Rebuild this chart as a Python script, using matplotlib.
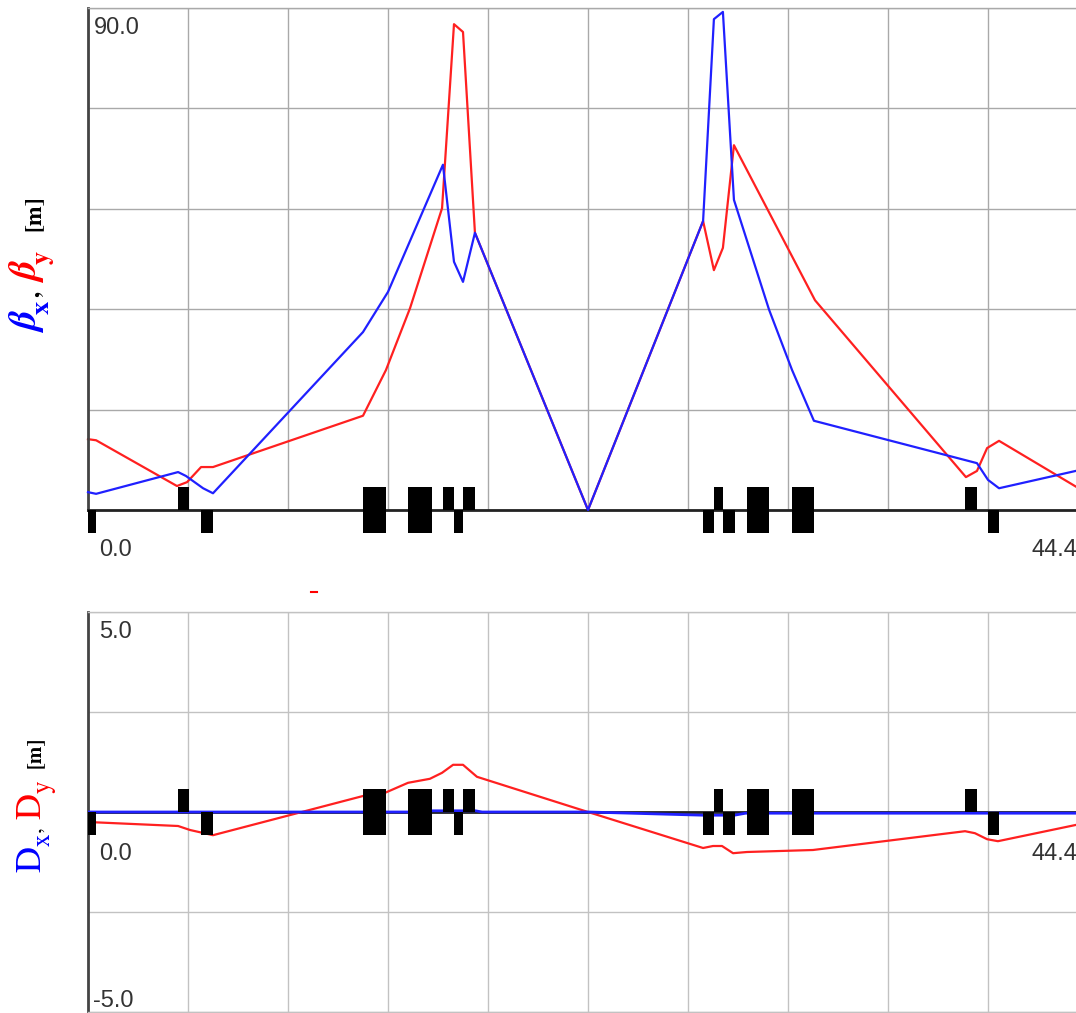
import numpy as np
import matplotlib.pyplot as plt
from matplotlib.lines import Line2D

# =========================
# DATA (s in metres)
# =========================
L = 44.4

s_bx = [0.0, 0.36, 4.00, 4.35, 5.11, 5.55, 12.21, 13.32, 15.76, 16.25, 16.65, 17.18,
        22.2, 27.31, 27.79, 28.19, 28.68, 30.24, 31.26, 32.23, 39.47, 39.96, 40.45, 44.4]
beta_x = [3.2, 2.9, 6.8, 6.1, 3.9, 3.0, 31.9, 39.1, 61.9, 44.5, 40.9, 49.7,
          0.0, 51.8, 88.0, 89.3, 55.6, 35.9, 25.1, 16.0, 8.4, 5.4, 3.9, 7.5]

s_by = [0.0, 0.36, 3.95, 4.40, 5.02, 5.55, 12.21, 13.23, 14.30, 15.72, 16.25, 16.65,
        17.18, 22.2, 27.31, 27.79, 28.19, 28.68, 32.28, 38.98, 39.47, 39.92, 40.45, 44.4]
beta_y = [12.7, 12.5, 4.3, 5.0, 7.7, 7.7, 16.9, 25.1, 36.2, 54.1, 87.1, 85.7,
          49.7, 0.0, 51.8, 43.0, 47.0, 65.4, 37.6, 5.9, 7.0, 11.1, 12.4, 2.9]

s_dx = [0.0, 15.0, 15.3, 17.2, 17.5, 22.2, 27.3, 28.7, 29.2, 44.4]
disp_x = [0.0, 0.0, 0.03, 0.03, 0.0, 0.0, -0.08, -0.08, -0.03, -0.03]

s_dy = [0.0, 4.00, 4.53, 5.55, 12.21, 13.19, 14.21, 15.18, 15.72, 16.21, 16.65, 17.27,
        22.2, 27.31, 27.75, 28.15, 28.64, 29.26, 32.19, 38.94, 39.38, 39.92, 40.40, 44.4]
disp_y = [-0.25, -0.35, -0.45, -0.58, 0.40, 0.48, 0.73, 0.83, 0.98, 1.18, 1.18, 0.88,
          0.0, -0.90, -0.85, -0.85, -1.03, -1.00, -0.95, -0.48, -0.53, -0.68, -0.73, -0.26]

# lattice elements: +1 focusing quad (up), -1 defocusing (down), 0 dipole (both)
mag_start = [0.0, 4.00, 5.02, 12.21, 14.21, 15.76, 16.25, 16.65,
             27.31, 27.79, 28.19, 29.26, 31.26, 38.94, 39.96, 44.04]
mag_end = [0.36, 4.48, 5.55, 13.23, 15.27, 16.25, 16.65, 17.18,
           27.79, 28.19, 28.73, 30.24, 32.23, 39.47, 40.45, 44.4]
mag_kind = [-1, 1, -1, 0, 0, 1, -1, 1, -1, 1, -1, 0, 0, 1, -1, 1]

# =========================
# FIGURE
# =========================
W, H = 1076, 1013
fig = plt.figure(figsize=(W / 100, H / 100), dpi=100)

txt_col = '#333333'
tick_font = dict(family='Liberation Sans', fontsize=17, color=txt_col)

ax1 = fig.add_axes([88 / W, (H - 510) / H, 1000 / W, 502 / H])
ax2 = fig.add_axes([88 / W, (H - 1012) / H, 1000 / W, 400 / H])


def ax_height_px(ax):
    return ax.get_position().height * H


def style_axes(ax, ylim, ystep, h_px, grid_col):
    ax.set_xlim(0, L)
    ax.set_ylim(*ylim)
    ax.set_xticks(np.arange(0, L + 0.01, L / 10))
    ax.set_yticks(np.arange(ylim[0], ylim[1] + 0.01, ystep))
    ax.tick_params(length=0, labelbottom=False, labelleft=False)
    ax.grid(True, color=grid_col, lw=1)
    ax.set_axisbelow(True)
    for sp in ['top', 'right', 'bottom']:
        ax.spines[sp].set_color(grid_col)
        ax.spines[sp].set_linewidth(1)
    ax.spines['left'].set_color('#444444')
    ax.spines['left'].set_linewidth(2)
    ax.set_facecolor('none')

    # magnets
    h = h_px / ax_height_px(ax) * (ylim[1] - ylim[0])
    for a, b, k in zip(mag_start, mag_end, mag_kind):
        if k > 0:
            bottom, height = 0, h
        elif k < 0:
            bottom, height = -h, h
        else:
            bottom, height = -h, 2 * h
        ax.bar(a, height, width=b - a, bottom=bottom, align='edge',
               color='black', lw=0, zorder=4, clip_on=False)


style_axes(ax1, (0, 90), 18, 23, '#a9a9a9')
style_axes(ax2, (-5, 5), 2.5, 23, '#c2c2c2')

# zero lines
ax1.spines['bottom'].set_color('#222222')
ax1.spines['bottom'].set_linewidth(2)
ax2.axhline(0, color='#222222', lw=2, zorder=1)

# curves
ax1.plot(s_by, beta_y, color='#ff2020', lw=1.6, zorder=2, clip_on=False)
ax1.plot(s_bx, beta_x, color='#2020ff', lw=1.6, zorder=3, clip_on=False)
ax2.plot(s_dy, disp_y, color='#ff2020', lw=1.6, zorder=2)
ax2.plot(s_dx, disp_x, color='#2020ff', lw=2, zorder=3)


# range labels
def ftext(x, y, s, ha='left', va='center'):
    fig.text(x / W, 1 - y / H, s, ha=ha, va=va, **tick_font)


ftext(94, 28, '90.0')
ftext(99, 550, '0.0')
ftext(1077, 550, '44.4', ha='right')
ftext(99, 632, '5.0')
ftext(99, 854, '0.0')
ftext(1077, 854, '44.4', ha='right')
ftext(93, 1001, '-5.0')

# small red mark between panels
fig.add_artist(Line2D([311 / W, 317 / W], [1 - 592 / H] * 2, color='red', lw=1.5,
                      transform=fig.transFigure))


# =========================
# Y LABELS (coloured pieces)
# =========================
def ylabel_pieces(x_px, y_img, pieces):
    prev = None
    for txt, color, size, weight, style, sub, gap in pieces:
        kw = dict(rotation=90, rotation_mode='anchor', ha='left', va='baseline',
                  color=color, fontsize=size, fontweight=weight, fontstyle=style,
                  family='STIXGeneral', annotation_clip=False,
                  textcoords='offset points')
        if prev is None:
            prev = ax1.annotate(txt, xy=(x_px, H - y_img), xycoords='figure pixels',
                                xytext=(sub, gap), **kw)
        else:
            prev = ax1.annotate(txt, xy=(x_px, 1.0), xycoords=('figure pixels', prev),
                                xytext=(sub, gap), **kw)


ylabel_pieces(39, 333, [
    ('β', 'blue', 28, 'bold', 'italic', 0, 0),
    ('x', 'blue', 19, 'bold', 'normal', 7, 0),
    (',', 'black', 17, 'bold', 'normal', 0, 2),
    ('β', 'red', 28, 'bold', 'italic', 0, 6),
    ('y', 'red', 19, 'bold', 'normal', 7, 0),
    ('[m]', 'black', 17, 'bold', 'normal', 0, 14),
])

ylabel_pieces(40, 872, [
    ('D', 'blue', 26, 'normal', 'normal', 0, 0),
    ('x', 'blue', 18, 'normal', 'normal', 7, 0),
    (',', 'black', 17, 'normal', 'normal', 0, 1),
    ('D', 'red', 26, 'normal', 'normal', 0, 5),
    ('y', 'red', 18, 'normal', 'normal', 7, 0),
    ('[m]', 'black', 15, 'bold', 'normal', 0, 9),
])

fig.savefig('out.png', dpi=100)
